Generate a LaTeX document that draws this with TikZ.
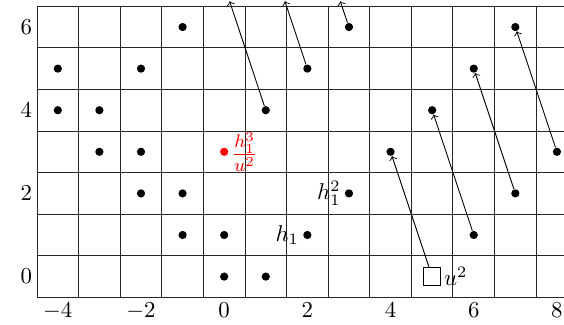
\documentclass[tikz,border=0pt]{standalone}
\usepackage{amsmath}
\begin{document}
\begin{tikzpicture}[x=0.64cm,y=0.64cm,
  dot/.style={circle,fill=black,inner sep=0pt,minimum size=3.6pt},
  reddot/.style={circle,fill=red,inner sep=0pt,minimum size=3.6pt},
  sqbox/.style={draw,inner sep=0pt,minimum size=7.6pt},
  gridline/.style={line width=0.4pt,black!85},
  conn/.style={->,line width=0.4pt},
  axlab/.style={inner sep=2pt}]
\useasboundingbox (-5.39,-1.14) rectangle (8.17,6.65);
\begin{scope}
\clip (-5.39,-1.14) rectangle (8.17,6.65);
\foreach \x in {-4.5,-3.5,...,8.5} \draw[gridline] (\x,-0.5) -- (\x,6.5);
\foreach \y in {-0.5,0.5,...,6.5} \draw[gridline] (-4.5,\y) -- (8.5,\y);

% axis labels
\foreach \x in {-4,-2,0,2,4,6,8} \node[axlab,anchor=north] (xl\x) at (\x,-0.5) {$\x$};
\foreach \y in {0,2,4,6} \node[axlab,anchor=east] (yl\y) at (-4.5,\y) {$\y$};

% dots
\node[dot] (a00) at (0,0) {};
\node[dot] (a10) at (1,0) {};
\node[sqbox,label={[inner sep=1pt]right:$u^2$}] (s50) at (5,0) {};
\node[dot] (am11) at (-1,1) {};
\node[dot] (a01) at (0,1) {};
\node[dot,label={[inner sep=1.5pt]left:$h_1$}] (a21) at (2,1) {};
\node[dot] (a61) at (6,1) {};
\node[dot] (am22) at (-2,2) {};
\node[dot] (am12) at (-1,2) {};
\node[dot,label={[inner sep=1.5pt]left:$h_1^2$}] (a32) at (3,2) {};
\node[dot] (a72) at (7,2) {};
\node[dot] (am33) at (-3,3) {};
\node[dot] (am23) at (-2,3) {};
\node[reddot,label={[red,inner sep=1pt,font=\large]right:$\frac{h_1^3}{u^2}$}] (a03) at (0,3) {};
\node[dot] (a43) at (4,3) {};
\node[dot] (a83) at (8,3) {};
\node[dot] (am44) at (-4,4) {};
\node[dot] (am34) at (-3,4) {};
\node[dot] (a14) at (1,4) {};
\node[dot] (a54) at (5,4) {};
\node[dot] (am45) at (-4,5) {};
\node[dot] (am25) at (-2,5) {};
\node[dot] (a25) at (2,5) {};
\node[dot] (a65) at (6,5) {};
\node[dot] (am16) at (-1,6) {};
\node[dot] (a36) at (3,6) {};
\node[dot] (a76) at (7,6) {};

\coordinate (t1) at (0.13,6.62);
\coordinate (t2) at (1.46,6.62);
\coordinate (t3) at (2.79,6.62);

% arrows
\draw[conn] (s50) -- (a43);
\draw[conn] (a61) -- (a54);
\draw[conn] (a72) -- (a65);
\draw[conn] (a83) -- (a76);
\draw[conn] (a14) -- (t1);
\draw[conn] (a25) -- (t2);
\draw[conn] (a36) -- (t3);
\end{scope}
\end{tikzpicture}
\end{document}
